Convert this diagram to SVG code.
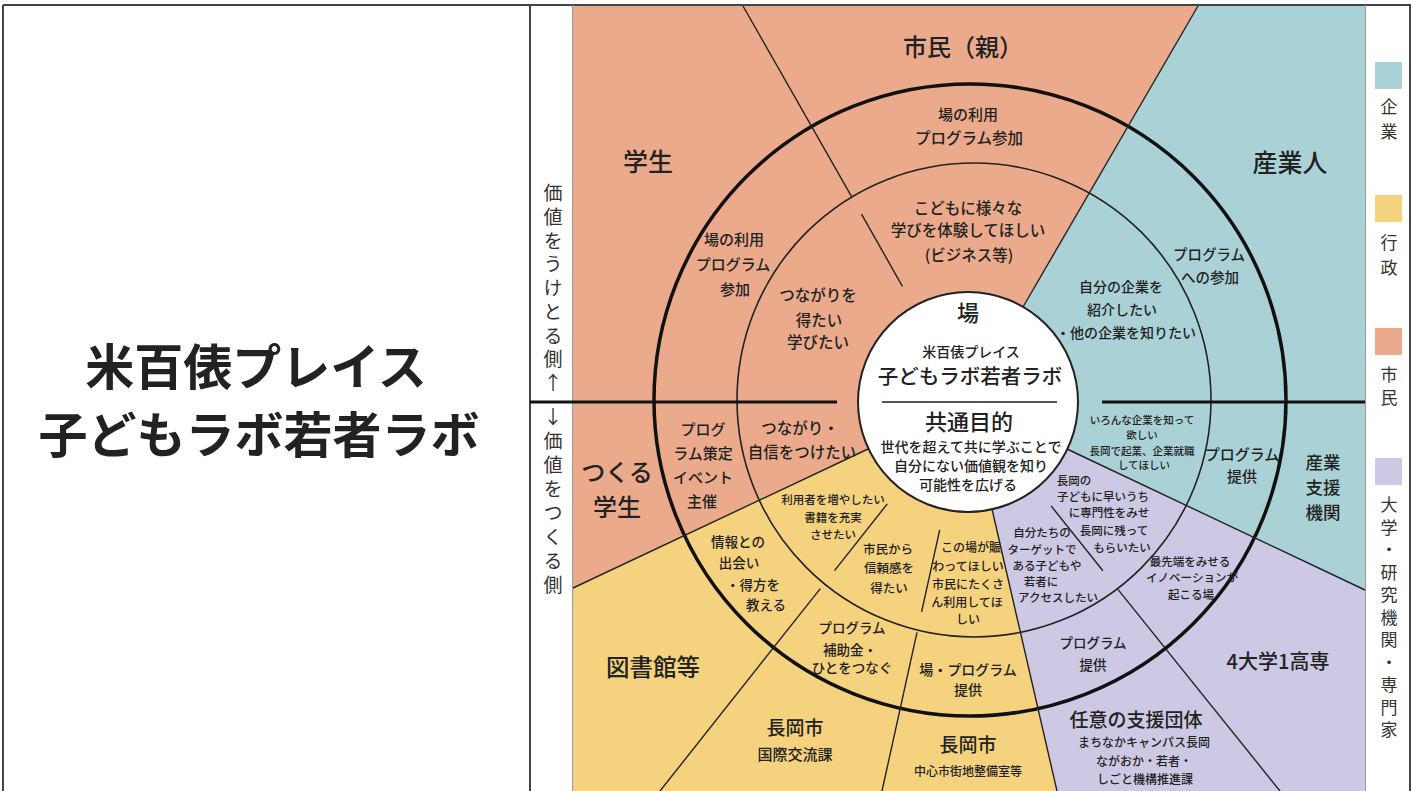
<svg xmlns="http://www.w3.org/2000/svg" width="1413" height="791" viewBox="0 0 1413 791">
<style>
.t{font-family:'Noto Sans CJK JP','Noto Sans',sans-serif;fill:#222;text-anchor:middle;font-weight:500}
.b{font-weight:700}
.v{font-family:'Noto Sans CJK JP','Noto Sans',sans-serif;fill:#333;text-anchor:start;font-size:19px;writing-mode:vertical-rl;text-orientation:upright}
.lg{font-family:'Noto Sans CJK JP','Noto Sans',sans-serif;fill:#333;text-anchor:start;font-size:17px;writing-mode:vertical-rl;text-orientation:upright}
.rl{stroke:#222;stroke-width:1.4;fill:none}
.frame{stroke:#444;stroke-width:2;fill:none}
</style>
<rect x="0" y="0" width="1413" height="791" fill="#fff"/>
<g id="frame">
<line class="frame" x1="3" y1="5" x2="1411" y2="5"/>
<line class="frame" x1="3" y1="5" x2="3" y2="791"/>
<line class="frame" x1="530" y1="5" x2="530" y2="791"/>
<line class="frame" x1="1410" y1="5" x2="1410" y2="791"/>
<line stroke="#777" stroke-width="1.5" x1="573" y1="5" x2="573" y2="791"/>
<line stroke="#777" stroke-width="1.5" x1="1365" y1="5" x2="1365" y2="791"/>
</g>
<g id="title">
<text class="t b" x="256" y="385" font-size="49" fill="#111">米百俵プレイス</text>
<text class="t b" x="259" y="453" font-size="49" fill="#111">子どもラボ若者ラボ</text>
</g>
<g id="sectors">
<polygon id="sector-shimin" points="968,402 573,588 573,6 1198,6" fill="#EBAA8C"/>
<polygon id="sector-kigyo" points="968,402 1198,6 1365,6 1365,590" fill="#AAD2D6"/>
<polygon id="sector-daigaku" points="968,402 1365,590 1365,791 1057,791" fill="#CDC8E4"/>
<polygon id="sector-gyosei" points="968,402 1057,791 573,791 573,588" fill="#F5D27D"/>
</g>
<g id="connectors">
<circle cx="970" cy="400" r="316" fill="none" stroke="#111" stroke-width="3.5"/>
<circle cx="974" cy="400" r="237" fill="none" stroke="#222" stroke-width="1.6"/>
<line class="rl" x1="1023" y1="307" x2="1198" y2="6"/>
<line class="rl" x1="1067" y1="449" x2="1365" y2="590"/>
<line class="rl" x1="992" y1="509" x2="1057" y2="791"/>
<line class="rl" x1="868" y1="449" x2="573" y2="588"/>
<line class="rl" x1="902.4" y1="286.3" x2="861.5" y2="214.1"/>
<line class="rl" x1="851.6" y1="196.7" x2="743" y2="6"/>
<line class="rl" x1="1051.1" y1="505.9" x2="1102.9" y2="570.7"/>
<line class="rl" x1="1117.9" y1="589.4" x2="1280" y2="791"/>
<line class="rl" x1="887.3" y1="503.9" x2="834.5" y2="570.6"/>
<line class="rl" x1="820.3" y1="588.6" x2="660" y2="791"/>
<line class="rl" x1="939.7" y1="529.9" x2="921.6" y2="611.9"/>
<line class="rl" x1="917" y1="632.4" x2="882" y2="791"/>
<line stroke="#111" stroke-width="3" x1="530" y1="402" x2="837" y2="402"/>
<line stroke="#111" stroke-width="3" x1="1102" y1="402" x2="1365" y2="402"/>
</g>
<g id="center-node">
<circle cx="968" cy="402" r="110" fill="#fff" stroke="#222" stroke-width="2"/>
<line x1="882" y1="402" x2="1057" y2="402" stroke="#555" stroke-width="2"/>
<text class="t" x="968" y="321" font-size="22">場</text>
<text class="t" x="971" y="357" font-size="14">米百俵プレイス</text>
<text class="t" x="970" y="384.4" font-size="20.5">子どもラボ若者ラボ</text>
<text class="t" x="969" y="430" font-size="22">共通目的</text>
<text class="t" x="971" y="452" font-size="14">世代を超えて共に学ぶことで</text>
<text class="t" x="971" y="471" font-size="14">自分にない価値観を知り</text>
<text class="t" x="968" y="490" font-size="14">可能性を広げる</text>
</g>
<g id="node-shimin-oya">
<text class="t" x="963" y="56" font-size="24">市民（親）</text>
<text class="t" x="968" y="120.4" font-size="15">場の利用</text>
<text class="t" x="969" y="143.6" font-size="15.5">プログラム参加</text>
<text class="t" x="968" y="213.6" font-size="15.5">こどもに様々な</text>
<text class="t" x="968" y="235.6" font-size="15.5">学びを体験してほしい</text>
<text class="t" x="969" y="260.6" font-size="15.5">(ビジネス等)</text>
</g>
<g id="node-gakusei">
<text class="t" x="648" y="171" font-size="25">学生</text>
<text class="t" x="734" y="245.4" font-size="15">場の利用</text>
<text class="t" x="733" y="270.4" font-size="15">プログラム</text>
<text class="t" x="735" y="295.4" font-size="15">参加</text>
<text class="t" x="818" y="300.6" font-size="15.5">つながりを</text>
<text class="t" x="819" y="325.6" font-size="15.5">得たい</text>
<text class="t" x="818" y="347.6" font-size="15.5">学びたい</text>
</g>
<g id="node-tsukuru-gakusei">
<text class="t" x="617" y="480.6" font-size="24">つくる</text>
<text class="t" x="617" y="515.6" font-size="24">学生</text>
<text class="t" x="703" y="435.4" font-size="15">プログ</text>
<text class="t" x="703" y="459.4" font-size="15">ラム策定</text>
<text class="t" x="703" y="483.4" font-size="15">イベント</text>
<text class="t" x="702" y="507.4" font-size="15">主催</text>
<text class="t" x="800" y="433.6" font-size="15.5">つながり・</text>
<text class="t" x="802" y="457.6" font-size="15.5">自信をつけたい</text>
</g>
<g id="node-sangyojin">
<text class="t" x="1290" y="172" font-size="25">産業人</text>
<text class="t" x="1209" y="260.2" font-size="14.5">プログラム</text>
<text class="t" x="1210" y="283.2" font-size="14.5">への参加</text>
<text class="t" x="1121" y="292" font-size="14">自分の企業を</text>
<text class="t" x="1122" y="315" font-size="14">紹介したい</text>
<text class="t" x="1126" y="338" font-size="14">・他の企業を知りたい</text>
</g>
<g id="node-sangyo-shien">
<text class="t" x="1142" y="423.8" font-size="10.5">いろんな企業を知って</text>
<text class="t" x="1142" y="438.8" font-size="10.5">欲しい</text>
<text class="t" x="1142" y="454.8" font-size="10.5">長岡で起業、企業就職</text>
<text class="t" x="1144" y="468.8" font-size="10.5">してほしい</text>
<text class="t" x="1242" y="460.4" font-size="15">プログラム</text>
<text class="t" x="1242" y="482.4" font-size="15">提供</text>
<text class="t" x="1323" y="469.3" font-size="17.5">産業</text>
<text class="t" x="1323" y="494.3" font-size="17.5">支援</text>
<text class="t" x="1323" y="519.3" font-size="17.5">機関</text>
</g>
<g id="node-daigaku">
<text class="t" x="1074" y="485.1" font-size="11.5">長岡の</text>
<text class="t" x="1103" y="501.1" font-size="11.5">子どもに早いうち</text>
<text class="t" x="1109" y="517.1" font-size="11.5">に専門性をみせ</text>
<text class="t" x="1114" y="535.1" font-size="11.5">長岡に残って</text>
<text class="t" x="1122" y="552.1" font-size="11.5">もらいたい</text>
<text class="t" x="1190" y="566.1" font-size="11.5">最先端をみせる</text>
<text class="t" x="1192" y="582.1" font-size="11.5">イノベーションが</text>
<text class="t" x="1191" y="599.1" font-size="11.5">起こる場</text>
<text class="t" x="1278" y="669.2" font-size="20">4大学1高専</text>
</g>
<g id="node-nini-dantai">
<text class="t" x="1042" y="537.1" font-size="11.5">自分たちの</text>
<text class="t" x="1042" y="554.1" font-size="11.5">ターゲットで</text>
<text class="t" x="1047" y="570.1" font-size="11.5">ある子どもや</text>
<text class="t" x="1041" y="586.1" font-size="11.5">若者に</text>
<text class="t" x="1058" y="602.1" font-size="11.5">アクセスしたい</text>
<text class="t" x="1093" y="647.9" font-size="13.5">プログラム</text>
<text class="t" x="1093" y="669.9" font-size="13.5">提供</text>
<text class="t" x="1136" y="726.8" font-size="19">任意の支援団体</text>
<text class="t" x="1144" y="747.3" font-size="12">まちなかキャンパス長岡</text>
<text class="t" x="1144" y="766.3" font-size="12">ながおか・若者・</text>
<text class="t" x="1145" y="784.3" font-size="12">しごと機構推進課</text>
</g>
<g id="node-toshokan">
<text class="t" x="833" y="504.1" font-size="11.5">利用者を増やしたい</text>
<text class="t" x="833" y="522.1" font-size="11.5">書籍を充実</text>
<text class="t" x="833" y="539.1" font-size="11.5">させたい</text>
<text class="t" x="738" y="546.9" font-size="13.5">情報との</text>
<text class="t" x="739" y="567.9" font-size="13.5">出会い</text>
<text class="t" x="753" y="589.9" font-size="13.5">・得方を</text>
<text class="t" x="766" y="609.9" font-size="13.5">教える</text>
<text class="t" x="653" y="675.5" font-size="23.5">図書館等</text>
</g>
<g id="node-kokusai">
<text class="t" x="888" y="553.5" font-size="12.5">市民から</text>
<text class="t" x="889" y="572.5" font-size="12.5">信頼感を</text>
<text class="t" x="889" y="592.5" font-size="12.5">得たい</text>
<text class="t" x="852" y="632.9" font-size="13.5">プログラム</text>
<text class="t" x="850" y="654.9" font-size="13.5">補助金・</text>
<text class="t" x="852" y="672.9" font-size="13.5">ひとをつなぐ</text>
<text class="t" x="795" y="734.8" font-size="19">長岡市</text>
<text class="t" x="795" y="760.4" font-size="15">国際交流課</text>
</g>
<g id="node-chushin">
<text class="t" x="971" y="552.3" font-size="12">この場が賑</text>
<text class="t" x="968" y="571.3" font-size="12">わってほしい</text>
<text class="t" x="968" y="589.3" font-size="12">市民にたくさ</text>
<text class="t" x="967" y="607.3" font-size="12">ん利用してほ</text>
<text class="t" x="968" y="624.3" font-size="12">しい</text>
<text class="t" x="968" y="675" font-size="14">場・プログラム</text>
<text class="t" x="968" y="695" font-size="14">提供</text>
<text class="t" x="968" y="751.8" font-size="19">長岡市</text>
<text class="t" x="968" y="776.3" font-size="12">中心市街地整備室等</text>
</g>
<g id="axis-labels">
<text class="v" x="553" y="183.5" style="letter-spacing:4.75px">価値をうけとる側↑</text>
<text class="v" x="553" y="407.5" style="letter-spacing:5px">↓価値をつくる側</text>
</g>
<g id="legend">
<rect x="1375" y="62" width="27" height="27" fill="#AAD2D6"/>
<rect x="1375" y="195" width="27" height="27" fill="#F5D27D"/>
<rect x="1375" y="328" width="27" height="27" fill="#EBAA8C"/>
<rect x="1375" y="458" width="27" height="27" fill="#CDC8E4"/>
<text class="lg" x="1389" y="98.5" style="letter-spacing:8px">企業</text>
<text class="lg" x="1389" y="234.5" style="letter-spacing:8px">行政</text>
<text class="lg" x="1389" y="366.5" style="letter-spacing:6px">市民</text>
<text class="lg" x="1389" y="496.5" style="letter-spacing:5.5px">大学・研究機関・専門家</text>
</g>
</svg>
